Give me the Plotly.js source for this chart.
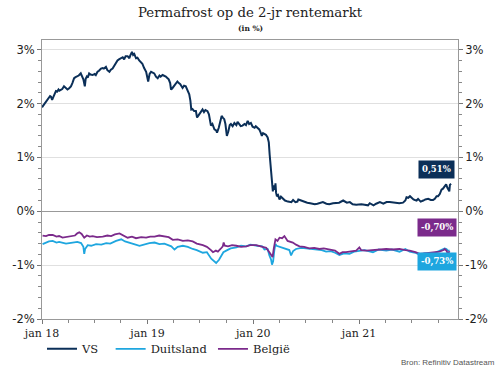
<!DOCTYPE html>
<html>
<head>
<meta charset="utf-8">
<script src="https://cdn.plot.ly/plotly-3.0.1.min.js"></script>
<style>html,body{margin:0;padding:0;background:#fff;}#chart{width:500px;height:375px;}</style>
</head>
<body>
<div id="chart"></div>
<script>
// VS 2-jaars rente (%)
const vsDates = ['2018-01-01','2018-01-05','2018-01-10','2018-01-15','2018-01-19','2018-01-24','2018-01-29','2018-02-01','2018-02-05','2018-02-09','2018-02-14','2018-02-18','2018-02-22','2018-02-27','2018-03-02','2018-03-07','2018-03-12','2018-03-18','2018-03-21','2018-03-26','2018-03-30','2018-04-04','2018-04-11','2018-04-16','2018-04-22','2018-04-27','2018-05-03','2018-05-08','2018-05-15','2018-05-18','2018-05-21','2018-05-24','2018-05-29','2018-06-01','2018-06-05','2018-06-08','2018-06-13','2018-06-18','2018-06-25','2018-07-02','2018-07-06','2018-07-12','2018-07-17','2018-07-24','2018-07-30','2018-08-03','2018-08-10','2018-08-15','2018-08-22','2018-08-27','2018-09-02','2018-09-07','2018-09-12','2018-09-19','2018-09-24','2018-10-01','2018-10-07','2018-10-12','2018-10-17','2018-10-24','2018-10-30','2018-11-02','2018-11-08','2018-11-12','2018-11-16','2018-11-22','2018-11-27','2018-12-03','2018-12-09','2018-12-14','2018-12-20','2018-12-27','2019-01-03','2019-01-08','2019-01-13','2019-01-18','2019-01-24','2019-01-30','2019-02-05','2019-02-11','2019-02-15','2019-02-22','2019-02-28','2019-03-05','2019-03-11','2019-03-15','2019-03-20','2019-03-23','2019-03-27','2019-04-01','2019-04-08','2019-04-14','2019-04-19','2019-04-24','2019-05-02','2019-05-07','2019-05-13','2019-05-17','2019-05-22','2019-05-25','2019-05-29','2019-06-01','2019-06-05','2019-06-11','2019-06-17','2019-06-21','2019-06-26','2019-07-02','2019-07-10','2019-07-15','2019-07-20','2019-07-27','2019-08-01','2019-08-05','2019-08-08','2019-08-13','2019-08-20','2019-08-26','2019-08-29','2019-09-04','2019-09-10','2019-09-14','2019-09-18','2019-09-23','2019-09-27','2019-10-02','2019-10-07','2019-10-12','2019-10-16','2019-10-22','2019-10-28','2019-11-04','2019-11-08','2019-11-13','2019-11-19','2019-11-25','2019-12-02','2019-12-07','2019-12-13','2019-12-18','2019-12-24','2019-12-30','2020-01-06','2020-01-10','2020-01-15','2020-01-22','2020-01-27','2020-01-31','2020-02-04','2020-02-09','2020-02-14','2020-02-20','2020-02-24','2020-02-27','2020-03-02','2020-03-04','2020-03-06','2020-03-09','2020-03-11','2020-03-13','2020-03-16','2020-03-18','2020-03-20','2020-03-23','2020-03-27','2020-04-01','2020-04-06','2020-04-13','2020-04-20','2020-04-30','2020-05-06','2020-05-12','2020-05-18','2020-05-26','2020-06-02','2020-06-05','2020-06-10','2020-06-18','2020-06-27','2020-07-06','2020-07-16','2020-07-24','2020-08-01','2020-08-10','2020-08-19','2020-08-29','2020-09-10','2020-09-20','2020-10-03','2020-10-14','2020-10-24','2020-11-07','2020-11-12','2020-11-20','2020-11-30','2020-12-10','2020-12-22','2021-01-09','2021-01-20','2021-02-01','2021-02-07','2021-02-20','2021-03-01','2021-03-14','2021-03-26','2021-04-06','2021-04-17','2021-04-28','2021-05-10','2021-05-20','2021-06-02','2021-06-10','2021-06-14','2021-06-20','2021-06-26','2021-07-02','2021-07-08','2021-07-13','2021-07-19','2021-07-24','2021-08-02','2021-08-11','2021-08-18','2021-08-28','2021-09-06','2021-09-14','2021-09-20','2021-09-26','2021-10-01','2021-10-07','2021-10-13','2021-10-18','2021-10-25','2021-10-29','2021-11-02','2021-11-05','2021-11-09','2021-11-11','2021-11-15'];
const vsValues = [1.93,1.96,2.00,2.04,2.06,2.10,2.14,2.13,2.07,2.12,2.18,2.23,2.22,2.26,2.24,2.26,2.27,2.32,2.30,2.27,2.26,2.28,2.32,2.38,2.47,2.49,2.50,2.52,2.56,2.53,2.50,2.45,2.32,2.46,2.50,2.48,2.56,2.54,2.53,2.55,2.53,2.59,2.61,2.65,2.66,2.65,2.68,2.62,2.59,2.63,2.65,2.70,2.74,2.80,2.82,2.84,2.86,2.82,2.88,2.88,2.84,2.89,2.96,2.90,2.92,2.84,2.85,2.80,2.77,2.74,2.66,2.59,2.41,2.55,2.59,2.57,2.56,2.50,2.47,2.52,2.50,2.53,2.52,2.50,2.47,2.45,2.38,2.26,2.28,2.32,2.38,2.41,2.38,2.36,2.29,2.33,2.32,2.26,2.22,2.17,2.05,1.89,1.90,1.86,1.86,1.74,1.78,1.82,1.89,1.84,1.88,1.86,1.80,1.68,1.59,1.62,1.52,1.50,1.46,1.55,1.68,1.77,1.74,1.71,1.62,1.40,1.48,1.60,1.62,1.58,1.64,1.60,1.66,1.62,1.58,1.59,1.62,1.60,1.68,1.62,1.64,1.57,1.55,1.58,1.56,1.52,1.46,1.40,1.45,1.43,1.42,1.37,1.28,1.05,0.80,0.62,0.55,0.37,0.48,0.46,0.40,0.52,0.35,0.28,0.30,0.22,0.27,0.24,0.20,0.18,0.18,0.17,0.21,0.17,0.18,0.22,0.21,0.19,0.17,0.16,0.15,0.14,0.13,0.14,0.15,0.17,0.14,0.13,0.15,0.15,0.16,0.20,0.18,0.16,0.17,0.13,0.12,0.13,0.12,0.11,0.15,0.11,0.14,0.17,0.14,0.17,0.17,0.16,0.16,0.15,0.16,0.20,0.26,0.25,0.28,0.24,0.22,0.21,0.20,0.23,0.18,0.20,0.22,0.23,0.21,0.21,0.23,0.28,0.28,0.32,0.40,0.42,0.48,0.50,0.44,0.40,0.37,0.49,0.51];

// Duitsland 2-jaars rente (%)
const deDates = ['2018-01-03','2018-01-15','2018-01-25','2018-02-07','2018-02-20','2018-03-01','2018-03-13','2018-03-25','2018-04-17','2018-05-03','2018-05-16','2018-05-24','2018-05-27','2018-05-30','2018-06-08','2018-06-20','2018-07-07','2018-07-25','2018-08-11','2018-08-25','2018-09-14','2018-10-02','2018-10-15','2018-10-30','2018-11-15','2018-12-04','2018-12-20','2019-01-07','2019-01-25','2019-02-11','2019-02-28','2019-03-15','2019-03-24','2019-04-04','2019-04-15','2019-05-03','2019-05-20','2019-06-06','2019-06-20','2019-07-11','2019-07-25','2019-08-09','2019-08-15','2019-08-26','2019-09-05','2019-09-13','2019-09-20','2019-09-30','2019-10-15','2019-11-04','2019-11-20','2019-12-08','2019-12-22','2020-01-16','2020-02-01','2020-02-09','2020-02-20','2020-02-26','2020-03-03','2020-03-06','2020-03-10','2020-03-14','2020-03-18','2020-03-22','2020-04-06','2020-04-24','2020-05-05','2020-05-11','2020-05-18','2020-05-28','2020-06-15','2020-07-02','2020-07-20','2020-08-06','2020-08-25','2020-09-09','2020-09-25','2020-10-10','2020-10-25','2020-11-10','2020-11-29','2020-12-15','2021-01-02','2021-01-20','2021-02-18','2021-03-10','2021-04-05','2021-04-25','2021-05-21','2021-06-10','2021-06-25','2021-07-15','2021-07-30','2021-08-15','2021-09-13','2021-10-01','2021-10-18','2021-10-24','2021-10-30','2021-11-04','2021-11-10'];
const deValues = [-0.61,-0.58,-0.56,-0.55,-0.58,-0.57,-0.59,-0.60,-0.58,-0.57,-0.59,-0.66,-0.79,-0.70,-0.63,-0.64,-0.61,-0.62,-0.59,-0.60,-0.55,-0.52,-0.56,-0.59,-0.61,-0.64,-0.61,-0.59,-0.58,-0.61,-0.60,-0.63,-0.65,-0.71,-0.66,-0.64,-0.66,-0.70,-0.72,-0.77,-0.76,-0.88,-0.91,-0.96,-0.90,-0.82,-0.76,-0.73,-0.69,-0.67,-0.64,-0.65,-0.62,-0.64,-0.65,-0.71,-0.70,-0.82,-0.90,-0.99,-0.93,-0.73,-0.61,-0.64,-0.67,-0.70,-0.72,-0.82,-0.74,-0.70,-0.68,-0.69,-0.70,-0.71,-0.72,-0.75,-0.74,-0.77,-0.81,-0.78,-0.79,-0.75,-0.73,-0.72,-0.76,-0.71,-0.73,-0.71,-0.75,-0.70,-0.75,-0.77,-0.81,-0.78,-0.79,-0.75,-0.71,-0.69,-0.70,-0.73,-0.73];

// België 2-jaars rente (%)
const beDates = ['2018-01-03','2018-01-15','2018-01-25','2018-02-07','2018-02-20','2018-03-01','2018-03-13','2018-03-25','2018-04-11','2018-04-25','2018-05-03','2018-05-10','2018-05-18','2018-05-27','2018-06-05','2018-06-15','2018-06-25','2018-07-10','2018-07-30','2018-08-15','2018-08-28','2018-09-10','2018-09-26','2018-10-10','2018-10-24','2018-11-08','2018-11-22','2018-12-10','2018-12-27','2019-01-10','2019-01-25','2019-02-10','2019-02-28','2019-03-15','2019-03-29','2019-04-15','2019-05-03','2019-05-20','2019-06-06','2019-06-20','2019-07-11','2019-07-25','2019-08-08','2019-08-15','2019-08-25','2019-09-01','2019-09-10','2019-09-18','2019-09-21','2019-09-25','2019-10-06','2019-10-20','2019-11-04','2019-11-20','2019-12-08','2019-12-22','2020-01-11','2020-01-25','2020-02-03','2020-02-15','2020-02-26','2020-03-04','2020-03-08','2020-03-12','2020-03-18','2020-03-25','2020-04-01','2020-04-10','2020-04-18','2020-04-29','2020-05-10','2020-05-17','2020-05-28','2020-06-09','2020-06-25','2020-07-13','2020-07-30','2020-08-17','2020-09-01','2020-09-21','2020-10-10','2020-10-25','2020-11-05','2020-11-17','2020-12-05','2020-12-22','2021-01-02','2021-01-08','2021-01-26','2021-02-15','2021-03-13','2021-04-05','2021-04-28','2021-05-21','2021-06-10','2021-06-25','2021-07-15','2021-07-30','2021-08-15','2021-09-03','2021-09-20','2021-10-06','2021-10-20','2021-10-24','2021-10-30','2021-11-04','2021-11-10'];
const beValues = [-0.45,-0.46,-0.44,-0.44,-0.47,-0.46,-0.49,-0.48,-0.47,-0.45,-0.41,-0.39,-0.42,-0.49,-0.45,-0.47,-0.46,-0.48,-0.47,-0.45,-0.46,-0.43,-0.41,-0.45,-0.49,-0.47,-0.50,-0.48,-0.49,-0.47,-0.47,-0.45,-0.46,-0.48,-0.53,-0.52,-0.55,-0.54,-0.56,-0.60,-0.63,-0.66,-0.72,-0.76,-0.73,-0.75,-0.70,-0.65,-0.58,-0.64,-0.65,-0.63,-0.64,-0.66,-0.65,-0.63,-0.63,-0.65,-0.67,-0.68,-0.76,-0.82,-0.85,-0.70,-0.52,-0.55,-0.49,-0.50,-0.46,-0.55,-0.56,-0.58,-0.62,-0.65,-0.66,-0.69,-0.68,-0.70,-0.69,-0.71,-0.73,-0.79,-0.76,-0.76,-0.74,-0.73,-0.67,-0.72,-0.73,-0.72,-0.71,-0.70,-0.71,-0.70,-0.72,-0.73,-0.76,-0.79,-0.78,-0.77,-0.76,-0.75,-0.72,-0.70,-0.73,-0.79,-0.74];

const seriesNames = ['VS','Duitsland','België'];
const tickDates = ['2018-01-01','2019-01-01','2020-01-01','2021-01-01'];
const tickLabels = ['jan 18','jan 19','jan 20','jan 21'];
const yTicks = [-2,-1,0,1,2,3];
const yTickLabels = ['-2%','-1%','0%','1%','2%','3%'];
const lastLabels = ['0,51%','-0,70%','-0,73%'];

const cVS = '#0b2f58', cDE = '#1ea6df', cBE = '#7b2a8b';
const serif = 'DejaVu Serif, serif';

const traces = [
  {x: vsDates, y: vsValues, name: seriesNames[0], type:'scatter', mode:'lines', line:{color:cVS, width:2}, legend:'legend'},
  {x: deDates, y: deValues, name: seriesNames[1], type:'scatter', mode:'lines', line:{color:cDE, width:1.8}, legend:'legend2'},
  {x: beDates, y: beValues, name: seriesNames[2], type:'scatter', mode:'lines', line:{color:cBE, width:1.8}, legend:'legend3'},
  {x: [vsDates[0]], y: [0], yaxis:'y2', type:'scatter', mode:'markers', marker:{opacity:0}, showlegend:false, hoverinfo:'skip'}
];

const yCommon = {
  range:[-2,3.18], tickmode:'array', tickvals:yTicks, ticktext:yTickLabels, ticks:'outside', ticklen:4, tickcolor:'#777',
  minor:{tickmode:'linear', tick0:-2, dtick:0.2, ticks:'outside', ticklen:3, tickcolor:'#888', showgrid:false},
  tickfont:{family:'DejaVu Sans, sans-serif', size:11.5, color:'#222'},
  showline:true, linecolor:'#999', linewidth:1, fixedrange:true
};

const legBase = {orientation:'h', xanchor:'left', y:-0.107, yanchor:'middle', font:{family:serif, size:11.5, color:'#222'}, itemwidth:30, bgcolor:'rgba(0,0,0,0)'};

const layout = {
  width:500, height:375,
  margin:{l:42, r:42, t:40, b:52.3},
  paper_bgcolor:'#fff', plot_bgcolor:'#fff',
  title:{text:'Permafrost op de 2-jr rentemarkt', font:{family:serif, size:13.3, color:'#222'}, x:0.5, xanchor:'center', y:0.968, yanchor:'middle'},
  showlegend:true,
  legend:Object.assign({}, legBase, {x:0.0}),
  legend2:Object.assign({}, legBase, {x:0.165}),
  legend3:Object.assign({}, legBase, {x:0.411}),
  xaxis:{type:'date', range:['2018-01-01','2021-12-09'], tickmode:'array', tickvals:tickDates, ticktext:tickLabels,
    ticks:'outside', ticklen:4, tickcolor:'#777',
    minor:{tickmode:'linear', tick0:'2018-01-01', dtick:'M3', ticks:'outside', ticklen:3, tickcolor:'#888', showgrid:false},
    tickfont:{family:serif, size:11, color:'#222'},
    showgrid:false, showline:true, mirror:true, linecolor:'#999', linewidth:1, zeroline:false},
  yaxis:Object.assign({}, yCommon, {side:'left', mirror:true, showgrid:true, gridcolor:'#e0e0e0', gridwidth:1,
    zeroline:true, zerolinecolor:'#999', zerolinewidth:1.5}),
  yaxis2:Object.assign({}, yCommon, {side:'right', overlaying:'y', showgrid:false, zeroline:false}),
  annotations:[
    {text:'(in %)', xref:'paper', yref:'paper', x:0.5, y:1.042, xanchor:'center', yanchor:'middle', showarrow:false,
      font:{family:serif, size:7.5, color:'#222', weight:'bold'}},
    {text:'Bron: Refinitiv Datastream', xref:'paper', yref:'paper', x:1.094, y:-0.157, xanchor:'right', yanchor:'middle', showarrow:false,
      font:{family:'Liberation Sans, Arial, sans-serif', size:8, color:'#555'}},
    {text:lastLabels[0], x:'2021-09-27', y:0.775, xref:'x', yref:'y', showarrow:false, bgcolor:cVS, borderpad:3,
      font:{family:serif, size:8.5, color:'#fff', weight:'bold'}},
    {text:lastLabels[1], x:'2021-09-27', y:-0.31, xref:'x', yref:'y', showarrow:false, bgcolor:cBE, borderpad:3,
      font:{family:serif, size:8.5, color:'#fff', weight:'bold'}},
    {text:lastLabels[2], x:'2021-09-27', y:-0.94, xref:'x', yref:'y', showarrow:false, bgcolor:cDE, borderpad:3,
      font:{family:serif, size:8.5, color:'#fff', weight:'bold'}}
  ]
};

Plotly.newPlot('chart', traces, layout, {displayModeBar:false, staticPlot:true});
</script>
</body>
</html>
